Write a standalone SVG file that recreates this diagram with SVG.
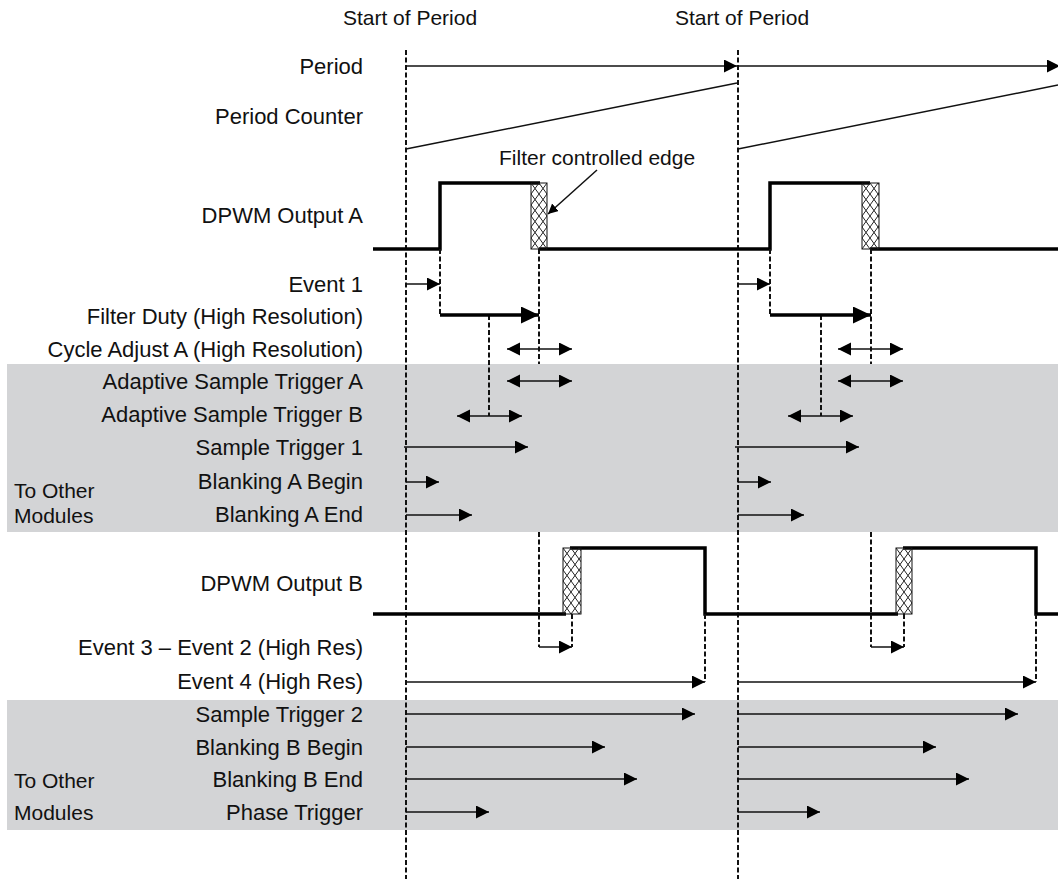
<svg xmlns="http://www.w3.org/2000/svg" width="1058" height="879" viewBox="0 0 1058 879">
<style>
  text { font-family: "Liberation Sans", Arial, sans-serif; font-size: 21px; fill: #111; }
  .lbl { text-anchor: end; font-size: 22px; }
  .side { font-size: 21px; }
  .band { fill: #d3d4d6; }
  .guide { stroke: #111; stroke-width: 2; stroke-dasharray: 5 2.5; fill: none; }
  .dash { stroke: #111; stroke-width: 2; stroke-dasharray: 5 2.5; fill: none; }
  .wave { stroke: #000; stroke-width: 3.5; fill: none; stroke-linejoin: miter; }
  .thin { stroke: #111; stroke-width: 1.5; fill: none; }
  .arr { stroke: #111; stroke-width: 1.5; fill: none; marker-end: url(#ah); }
  .dbl { stroke: #111; stroke-width: 1.5; fill: none; marker-end: url(#ah2); marker-start: url(#ah2); }
  .thick { stroke: #000; stroke-width: 3.5; fill: none; marker-end: url(#ahL); }
  .hatch { fill: url(#xh); stroke: #111; stroke-width: 1; }
</style>
<defs>
  <marker id="ah" markerUnits="userSpaceOnUse" markerWidth="14" markerHeight="14" refX="13" refY="6.5" orient="auto">
    <path d="M0,0 L13,6.5 L0,13 z" fill="#000"/>
  </marker>
  <marker id="ah2" markerUnits="userSpaceOnUse" markerWidth="14" markerHeight="14" refX="13" refY="6.5" orient="auto-start-reverse">
    <path d="M0,0 L13,6.5 L0,13 z" fill="#000"/>
  </marker>
  <marker id="ahL" markerUnits="userSpaceOnUse" markerWidth="20" markerHeight="18" refX="18" refY="8.5" orient="auto">
    <path d="M0,0 L18,8.5 L0,17 z" fill="#000"/>
  </marker>
  <marker id="ahS" markerUnits="userSpaceOnUse" markerWidth="12" markerHeight="12" refX="10" refY="5" orient="auto">
    <path d="M0,0 L10,5 L0,10 z" fill="#000"/>
  </marker>
  <pattern id="xh" patternUnits="userSpaceOnUse" width="8" height="11">
    <path d="M0,0 L8,11 M8,0 L0,11" stroke="#222" stroke-width="1" fill="none"/>
  </pattern>
</defs>

<rect width="1058" height="879" fill="#fff"/>

<g id="bands">
  <rect class="band" x="7" y="364" width="1051" height="168"/>
  <rect class="band" x="7" y="700" width="1051" height="130"/>
</g>

<g id="period-starts">
  <text x="410" y="25" text-anchor="middle">Start of Period</text>
  <text x="742" y="25" text-anchor="middle">Start of Period</text>
  <line class="guide" x1="406" y1="50" x2="406" y2="879"/>
  <line class="guide" x1="738" y1="50" x2="738" y2="879"/>
</g>

<g id="period">
  <text class="lbl" x="363" y="74">Period</text>
</g>
<g id="period-counter">
  <text class="lbl" x="363" y="124">Period Counter</text>
  <path class="thin" d="M406,149 L737,83"/>
  <path class="thin" d="M738,149 L1058,85"/>
</g>

<g id="dpwm-a">
  <text class="lbl" x="363" y="223">DPWM Output A</text>
  <path class="wave" d="M373,249 H440 V183 H540"/>
  <path class="wave" d="M539,249 H770 V183 H870"/>
  <path class="wave" d="M870,249 H1058"/>
  <g transform="translate(531,183)"><rect class="hatch" x="0" y="0" width="16" height="66"/></g>
  <g transform="translate(862,183)"><rect class="hatch" x="0" y="0" width="17" height="66"/></g>
  <text x="499" y="165">Filter controlled edge</text>
</g>

<g id="event1"><text class="lbl" x="363" y="292">Event 1</text></g>
<g id="filter-duty"><text class="lbl" x="363" y="324">Filter Duty (High Resolution)</text></g>
<g id="cycle-adjust-a"><text class="lbl" x="363" y="357">Cycle Adjust A (High Resolution)</text></g>
<g id="adaptive-a"><text class="lbl" x="363" y="389">Adaptive Sample Trigger A</text></g>
<g id="adaptive-b"><text class="lbl" x="363" y="422">Adaptive Sample Trigger B</text></g>
<g id="sample-trigger-1"><text class="lbl" x="363" y="455">Sample Trigger 1</text></g>
<g id="blanking-a-begin"><text class="lbl" x="363" y="489">Blanking A Begin</text></g>
<g id="blanking-a-end"><text class="lbl" x="363" y="522">Blanking A End</text></g>
<g id="other-modules-a"><text class="side" x="14" y="498">To Other</text><text class="side" x="14" y="523">Modules</text></g>

<g id="dpwm-b">
  <text class="lbl" x="363" y="591">DPWM Output B</text>
  <path class="wave" d="M373,614 H566"/>
  <path class="wave" d="M570,548 H705 V614 H898"/>
  <path class="wave" d="M903,548 H1036 V614 H1058"/>
  <g transform="translate(563,548)"><rect class="hatch" x="0" y="0" width="18" height="66"/></g>
  <g transform="translate(896,548)"><rect class="hatch" x="0" y="0" width="16" height="66"/></g>
</g>

<g id="event3-2"><text class="lbl" x="363" y="655">Event 3 – Event 2 (High Res)</text></g>
<g id="event4"><text class="lbl" x="363" y="689">Event 4 (High Res)</text></g>
<g id="sample-trigger-2"><text class="lbl" x="363" y="722">Sample Trigger 2</text></g>
<g id="blanking-b-begin"><text class="lbl" x="363" y="755">Blanking B Begin</text></g>
<g id="blanking-b-end"><text class="lbl" x="363" y="787">Blanking B End</text></g>
<g id="phase-trigger"><text class="lbl" x="363" y="820">Phase Trigger</text></g>
<g id="other-modules-b"><text class="side" x="14" y="788">To Other</text><text class="side" x="14" y="820">Modules</text></g>

<g id="connectors">
  <line class="arr" x1="406" y1="66" x2="737" y2="66"/>
  <line class="arr" x1="738" y1="66" x2="1060" y2="66"/>
  <line class="thin" x1="597" y1="170" x2="548" y2="214" marker-end="url(#ahS)"/>

  <line class="dash" x1="440" y1="249" x2="440" y2="315"/>
  <line class="dash" x1="539" y1="249" x2="539" y2="364"/>
  <line class="dash" x1="489" y1="315" x2="489" y2="416"/>
  <line class="dash" x1="539" y1="532" x2="539" y2="647"/>
  <line class="dash" x1="572" y1="614" x2="572" y2="647"/>
  <line class="dash" x1="705" y1="614" x2="705" y2="682"/>
  <line class="dash" x1="770" y1="249" x2="770" y2="315"/>
  <line class="dash" x1="871" y1="249" x2="871" y2="364"/>
  <line class="dash" x1="821" y1="315" x2="821" y2="416"/>
  <line class="dash" x1="871" y1="532" x2="871" y2="647"/>
  <line class="dash" x1="904" y1="614" x2="904" y2="647"/>
  <line class="dash" x1="1036" y1="614" x2="1036" y2="682"/>

  <line class="arr" x1="406" y1="284" x2="440" y2="284"/>
  <line class="thick" x1="440" y1="315" x2="539" y2="315"/>
  <line class="dbl" x1="507" y1="349" x2="572" y2="349"/>
  <line class="dbl" x1="507" y1="381" x2="572" y2="381"/>
  <line class="dbl" x1="457" y1="416" x2="522" y2="416"/>
  <line class="arr" x1="404" y1="447" x2="528" y2="447"/>
  <line class="arr" x1="406" y1="482" x2="439" y2="482"/>
  <line class="arr" x1="406" y1="515" x2="472" y2="515"/>
  <line class="arr" x1="539" y1="647" x2="572" y2="647"/>
  <line class="arr" x1="406" y1="682" x2="705" y2="682"/>
  <line class="arr" x1="406" y1="714" x2="695" y2="714"/>
  <line class="arr" x1="406" y1="747" x2="605" y2="747"/>
  <line class="arr" x1="406" y1="779" x2="637" y2="779"/>
  <line class="arr" x1="406" y1="812" x2="489" y2="812"/>

  <line class="arr" x1="738" y1="284" x2="770" y2="284"/>
  <line class="thick" x1="770" y1="315" x2="871" y2="315"/>
  <line class="dbl" x1="838" y1="349" x2="903" y2="349"/>
  <line class="dbl" x1="838" y1="381" x2="903" y2="381"/>
  <line class="dbl" x1="788" y1="416" x2="853" y2="416"/>
  <line class="arr" x1="735" y1="447" x2="859" y2="447"/>
  <line class="arr" x1="738" y1="482" x2="771" y2="482"/>
  <line class="arr" x1="738" y1="515" x2="804" y2="515"/>
  <line class="arr" x1="871" y1="647" x2="904" y2="647"/>
  <line class="arr" x1="738" y1="682" x2="1036" y2="682"/>
  <line class="arr" x1="738" y1="714" x2="1018" y2="714"/>
  <line class="arr" x1="738" y1="747" x2="936" y2="747"/>
  <line class="arr" x1="738" y1="779" x2="969" y2="779"/>
  <line class="arr" x1="738" y1="812" x2="820" y2="812"/>
</g>
</svg>
